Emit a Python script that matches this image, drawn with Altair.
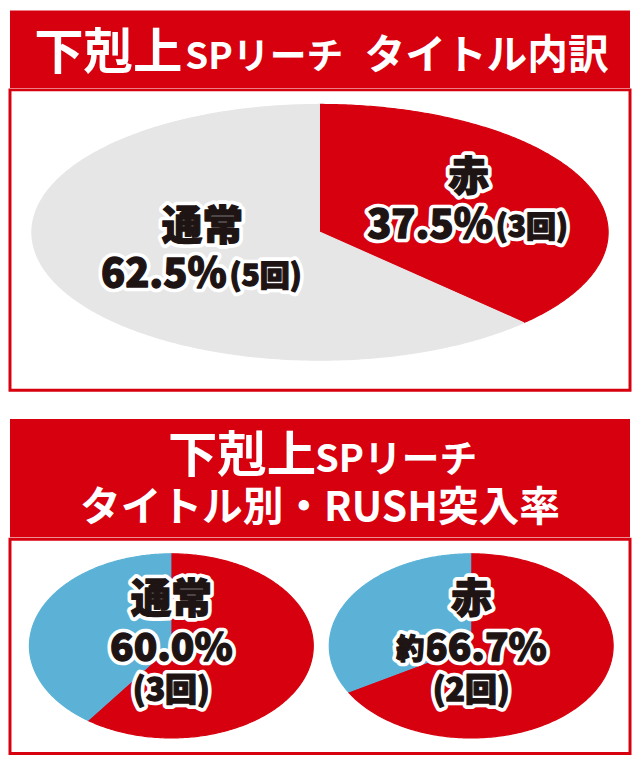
import altair as alt
import pandas as pd

# ---------------- data ----------------
top_titles = ["赤", "通常"]          # slices of the top pie (clockwise from 12 o'clock)
top_counts = [3, 5]

rush_titles = ["通常", "赤"]         # bottom pies
rush_in = [3, 2]                     # RUSH突入
rush_out = [2, 1]                    # 非突入
rush_prefix = ["", "約"]

header1 = ["下剋上", "SPリーチ", "タイトル内訳"]
header2_line1 = ["下剋上", "SPリーチ"]
header2_line2 = ["タイトル別・RUSH突入率"]

# ---------------- style ----------------
K = 0.975
RED = "#d7000f"
GRAY = "#e6e6e6"
BLUE = "#5bb2d6"
INK = "#1e1414"
FONT = "Noto Sans CJK JP"
W = 640 * K

df_top = pd.DataFrame({"slice": top_titles, "value": top_counts,
                       "order": list(range(len(top_titles))), "pie": 0, "prefix": ""})
df_top["key"] = df_top["slice"]

rows = []
for i, t in enumerate(rush_titles):
    rows.append({"pie": i, "title": t, "slice": "RUSH突入", "value": rush_in[i], "order": 0, "prefix": rush_prefix[i]})
    rows.append({"pie": i, "title": t, "slice": "非突入", "value": rush_out[i], "order": 1, "prefix": rush_prefix[i]})
df_bot = pd.DataFrame(rows)
df_bot["key"] = df_bot["title"] + df_bot["slice"]


def with_angles(df):
    return (alt.Chart(df)
            .transform_joinaggregate(total="sum(value)", groupby=["pie"])
            .transform_window(cum="sum(value)", sort=[alt.SortField("order")],
                              frame=[None, 0], groupby=["pie"])
            .transform_calculate(a0="(datum.cum - datum.value) / datum.total",
                                 a1="datum.cum / datum.total"))


def pie_layer(base, cx_expr, X, Y, color_scale):
    return (base
            .transform_calculate(seq="sequence(0, 242)")
            .transform_flatten(["seq"])
            .transform_calculate(
                t="datum.a0 + (datum.a1 - datum.a0) * clamp((datum.seq - 1) / 240, 0, 1)",
                r="datum.seq == 0 ? 0 : 1")
            .transform_calculate(px=f"{cx_expr} + datum.r * sin(2 * PI * datum.t)",
                                 py="datum.r * cos(2 * PI * datum.t)")
            .mark_line(strokeWidth=1.2, strokeJoin="round")
            .encode(x=X("px"), y=Y("py"),
                    order=alt.Order("seq:Q"),
                    detail="key:N",
                    fill=alt.Fill("slice:N", scale=color_scale, legend=None),
                    stroke=alt.Stroke("slice:N", scale=color_scale, legend=None)))


def outlined(chart, text, size, dx=0, dy=0, align="center", weight=900, halo=9):
    common = dict(font=FONT, fontSize=size * K, fontWeight=weight, dx=dx * K, dy=dy * K,
                  align=align, baseline="middle")
    h = chart.mark_text(fill="white", stroke="white", strokeWidth=halo * K,
                        strokeJoin="round", **common).encode(text=text)
    ink = chart.mark_text(fill=INK, stroke=INK, strokeWidth=1.3, strokeJoin="round",
                          **common).encode(text=text)
    return [h, ink]


def header(parts, height):
    layers = []
    for txt, size, x, y, align in parts:
        layers.append(alt.Chart(pd.DataFrame({"t": [txt]}))
                      .mark_text(font=FONT, fontSize=size * K, fontWeight="bold", color="white",
                                 align=align, baseline="alphabetic")
                      .encode(text="t:N", x=alt.value(x * K), y=alt.value(y * K)))
    return alt.layer(*layers).properties(
        width=W, height=height * K,
        view=alt.ViewBackground(fill=RED, stroke=RED, strokeWidth=0))


# ---------------- top panel ----------------
def X1(f):
    return alt.X(f"{f}:Q", scale=alt.Scale(domain=[-1.076, 1.076], nice=False, zero=False), axis=None)


def Y1(f):
    return alt.Y(f"{f}:Q", scale=alt.Scale(domain=[-1.235, 1.114], nice=False, zero=False), axis=None)


top_scale = alt.Scale(domain=top_titles, range=[RED, GRAY])
base_top = with_angles(df_top)
pie_top = pie_layer(base_top, "0", X1, Y1, top_scale)

lab_top = (base_top
           .transform_calculate(mid="(datum.a0 + datum.a1) / 2",
                                lx="0.5 * sin(2 * PI * datum.mid)",
                                ly="0.5 * cos(2 * PI * datum.mid)",
                                pct="format(datum.value / datum.total, '.1%')",
                                cnt="'(' + datum.value + '回)'")
           .encode(x=X1("lx"), y=Y1("ly")))

top_layers = [pie_top]
top_layers += outlined(lab_top, "slice:N", 42, dx=16, dy=-30)
top_layers += outlined(lab_top, "pct:N", 41, dx=16 + 25, dy=19, align="right")
top_layers += outlined(lab_top, "cnt:N", 31, dx=16 + 28, dy=21, align="left")

body1 = alt.layer(*top_layers).properties(
    width=W, height=310 * K,
    view=alt.ViewBackground(fill="white", stroke=RED, strokeWidth=3))

panel1 = alt.vconcat(
    header([(header1[0], 51, 25, 61, "left"),
            (header1[1], 38, 181, 61, "left"),
            (header1[2], 42, 366, 61, "left")], 80),
    body1, spacing=0)


# ---------------- bottom panel ----------------
STEP = 2.113


def X2(f):
    return alt.X(f"{f}:Q", scale=alt.Scale(domain=[-1.137, 3.232], nice=False, zero=False), axis=None)


def Y2(f):
    return alt.Y(f"{f}:Q", scale=alt.Scale(domain=[-1.168, 1.158], nice=False, zero=False), axis=None)


bot_scale = alt.Scale(domain=["RUSH突入", "非突入"], range=[RED, BLUE])
base_bot = with_angles(df_bot)
pie_bot = pie_layer(base_bot, f"datum.pie * {STEP}", X2, Y2, bot_scale)

lab_bot = (base_bot
           .transform_filter("datum.order == 0")
           .transform_calculate(cx=f"datum.pie * {STEP}",
                                lx=f"datum.pie * {STEP} + (datum.prefix != '' ? 0.1 : 0)",
                                ly="0",
                                pct="format(datum.value / datum.total, '.1%')",
                                cnt="'(' + datum.value + '回)'"))

lab_c = lab_bot.encode(x=X2("cx"), y=Y2("ly"))
lab_v = lab_bot.encode(x=X2("lx"), y=Y2("ly"))

bot_layers = [pie_bot]
bot_layers += outlined(lab_c, "title:N", 42, dy=-46)
bot_layers += outlined(lab_v, "pct:N", 40, dy=3)
bot_layers += outlined(lab_v.transform_filter("datum.prefix != ''"), "prefix:N", 29, dx=-63, dy=5, align="right")
bot_layers += outlined(lab_c, "cnt:N", 33, dy=47)

body2 = alt.layer(*bot_layers).properties(
    width=W, height=221 * K,
    view=alt.ViewBackground(fill="white", stroke=RED, strokeWidth=3))

panel2 = alt.vconcat(
    header([(header2_line1[0], 51, 163, 55, "left"),
            (header2_line1[1], 39, 315, 55, "left"),
            (header2_line2[0], 42, 320, 105, "center")], 122),
    body2, spacing=0)

chart = (alt.vconcat(panel1, panel2, spacing=28 * K)
         .properties(padding=0, background="white")
         .resolve_scale(fill="independent", stroke="independent")
         .configure_concat(spacing=0))

chart.save("out.html", embed_options={"renderer": "svg", "actions": False})
